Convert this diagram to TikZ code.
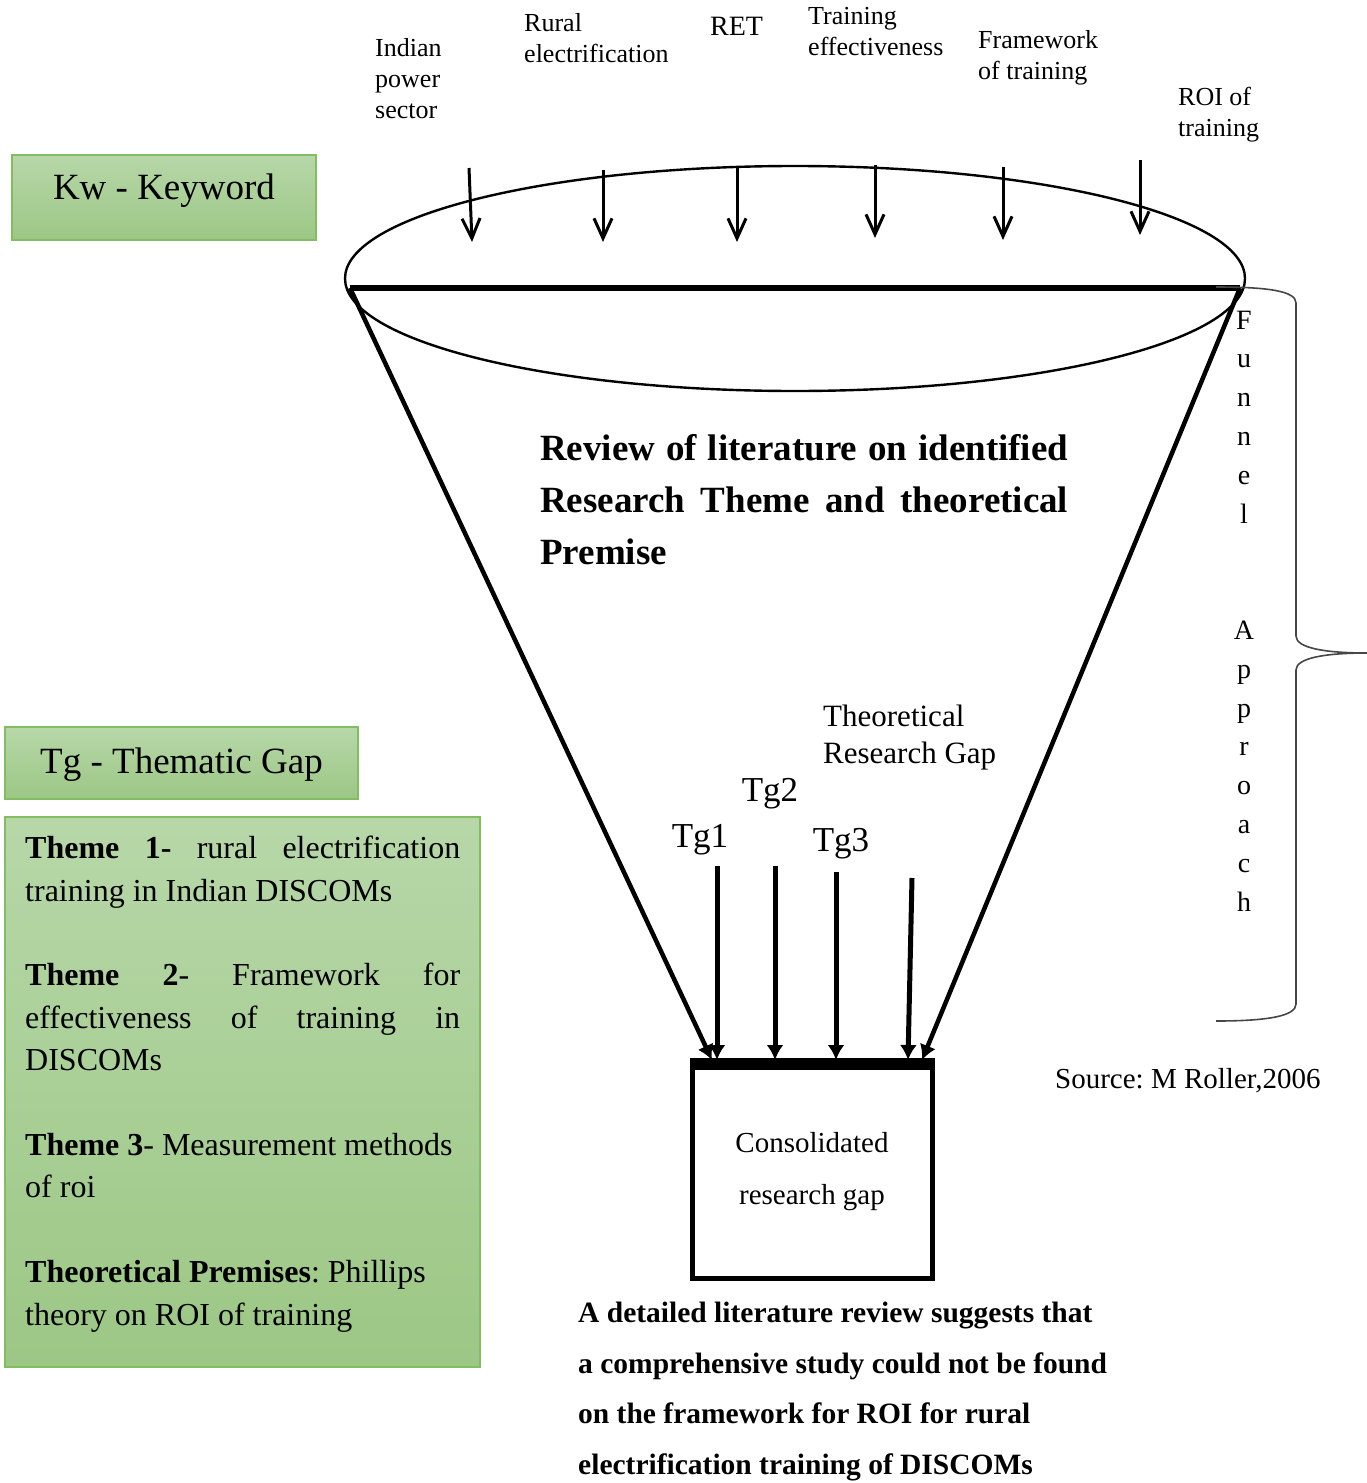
\documentclass[tikz,border=0pt]{standalone}
\usepackage{fontspec}
\setmainfont{Liberation Serif}
\frenchspacing
\usetikzlibrary{arrows.meta,shapes.geometric}
\definecolor{greentop}{RGB}{183,215,168}
\definecolor{greenbot}{RGB}{156,199,133}
\definecolor{boxedge}{RGB}{132,188,98}
\definecolor{bracecol}{RGB}{70,70,70}
\begin{document}
\begin{tikzpicture}[x=1pt,y=-1pt,
  kwlabel/.style={anchor=north west, align=left, inner sep=0pt,
    font=\fontsize{26}{31}\selectfont},
  greenbox/.style={draw=boxedge, line width=1.3pt, top color=greentop,
    bottom color=greenbot, rectangle, inner sep=0pt},
  kwarrow/.style={line width=3pt,
    -{Straight Barb[length=20pt,width=18pt,line width=3pt]}},
  gaparrow/.style={line width=5pt, -{Latex[length=15pt,width=17pt]}},
  sidearrow/.style={line width=4.5pt, -{Latex[length=15pt,width=17pt]}},
  taglabel/.style={inner sep=0pt, font=\fontsize{35}{40}\selectfont},
  bracestyle/.style={draw=bracecol, line width=1.6pt}
]
\useasboundingbox (0,0) rectangle (1367,1483);

% keyword labels above the funnel
\node[kwlabel] (k1) at (375,38) {Indian\\power\\sector};
\node[kwlabel] (k2) at (524,13) {Rural\\electrification};
\node[kwlabel, font=\fontsize{28}{31}\selectfont] (k3) at (710,16.5) {RET};
\node[kwlabel] (k4) at (808,7) {Training\\effectiveness};
\node[kwlabel] (k5) at (978,30) {Framework\\of training};
\node[kwlabel] (k6) at (1178,87) {ROI of\\training};

% legend boxes
\node[greenbox, minimum width=304pt, minimum height=85pt] (kwbox) at (164,197.5) {};
\node[inner sep=0pt, font=\fontsize{37}{40}\selectfont] (kwtext) at (164,191) {Kw - Keyword};

\node[greenbox, minimum width=353pt, minimum height=72pt] (tgbox) at (181.5,763) {};
\node[inner sep=0pt, font=\fontsize{37}{40}\selectfont] (tgtext) at (181.5,765) {Tg - Thematic Gap};

\node[greenbox, minimum width=475pt, minimum height=550pt] (themebox) at (242.5,1092) {};
\node[anchor=north west, inner sep=0pt, align=left,
      font=\fontsize{32}{42.4}\selectfont] (themes) at (25,836)
  {\makebox[435pt][s]{\textbf{Theme 1-} rural electrification}\\
   training in Indian DISCOMs\\[42.4pt]
   \makebox[435pt][s]{\textbf{Theme 2}- Framework for}\\
   \makebox[435pt][s]{effectiveness of training in}\\
   DISCOMs\\[42.4pt]
   \textbf{Theme 3}- Measurement methods\\
   of roi\\[42.4pt]
   \textbf{Theoretical Premises}: Phillips\\
   theory on ROI of training};

% funnel rim
\node[ellipse, draw, line width=2.4pt, inner sep=0pt,
      minimum width=900pt, minimum height=225pt] (rim) at (795,278.5) {};
\coordinate (rimL) at (350,288);
\coordinate (rimR) at (1240,288);
\draw[line width=6pt] (rimL) -- (rimR);

% keyword arrows into the funnel
\coordinate (a1s) at (469,168); \coordinate (a1e) at (472,242);
\coordinate (a2s) at (603,170); \coordinate (a2e) at (603,242);
\coordinate (a3s) at (737,168); \coordinate (a3e) at (737,242);
\coordinate (a4s) at (875,165); \coordinate (a4e) at (875,238);
\coordinate (a5s) at (1003,167); \coordinate (a5e) at (1003,240);
\coordinate (a6s) at (1140,160); \coordinate (a6e) at (1140,235);
\foreach \i in {1,...,6} \draw[kwarrow] (a\i s) -- (a\i e);

% consolidated gap box
\node[draw, line width=5pt, minimum width=240pt, minimum height=212pt,
      inner sep=0pt, align=center, font=\fontsize{29}{52}\selectfont]
  (gapbox) at (812,1172) {Consolidated\\research gap};
\draw[line width=12pt] (gapbox.north west) -- (gapbox.north east);

% funnel sides
\coordinate (sideL) at (712,1060);
\coordinate (sideR) at (922,1060);
\draw[sidearrow] (rimL) -- (sideL);
\draw[sidearrow] (rimR) -- (sideR);

% text inside the funnel
\node[anchor=north west, inner sep=0pt, align=left,
      font=\bfseries\fontsize{37}{52}\selectfont] (review) at (540,434.5)
  {\makebox[528pt][s]{Review of literature on identified}\\
   \makebox[528pt][s]{Research Theme and theoretical}\\
   Premise};

\node[anchor=north west, inner sep=0pt, align=left,
      font=\fontsize{31}{37}\selectfont] (theo) at (823,704.5)
  {Theoretical\\Research Gap};

% thematic gap arrows
\node[taglabel] (tg1) at (700,840) {Tg1};
\node[taglabel] (tg2) at (770,794) {Tg2};
\node[taglabel] (tg3) at (841,844) {Tg3};
\coordinate (g1s) at (717,866);
\coordinate (g2s) at (775,866);
\coordinate (g3s) at (836,872);
\coordinate (g4s) at (912,878);
\coordinate (g4e) at (908,1060);
\draw[gaparrow] (g1s) -- (g1s |- sideL);
\draw[gaparrow] (g2s) -- (g2s |- sideL);
\draw[gaparrow] (g3s) -- (g3s |- sideL);
\draw[gaparrow] (g4s) -- (g4e);

% brace with the vertical caption
\coordinate (brTop) at (1216,287);
\coordinate (brTip) at (1367,653);
\coordinate (brBot) at (1216,1021);
\draw[bracestyle] (brTop) .. controls (1268,287) and (1296,291) .. (1296,303)
  -- (1296,636) .. controls (1296,648) and (1325,653) .. (brTip)
  .. controls (1325,653) and (1296,658) .. (1296,670)
  -- (1296,1004) .. controls (1296,1016) and (1268,1021) .. (brBot);
\node[anchor=north, inner sep=0pt, align=center,
      font=\fontsize{28}{38.8}\selectfont] (funnelcap) at (1244,310.5)
  {F\\u\\n\\n\\e\\l\\[77.6pt]A\\p\\p\\r\\o\\a\\c\\h};

% source and conclusion
\node[anchor=west, inner sep=0pt, font=\fontsize{29}{34}\selectfont] (source)
  at (1055,1081) {Source: M Roller,2006};
\node[anchor=north west, inner sep=0pt, align=left,
      font=\bfseries\fontsize{29.5}{50.5}\selectfont] (concl) at (578,1302)
  {A detailed literature review suggests that\\
   a comprehensive study could not be found\\
   on the framework for ROI for rural\\
   electrification training of DISCOMs};
\end{tikzpicture}
\end{document}
